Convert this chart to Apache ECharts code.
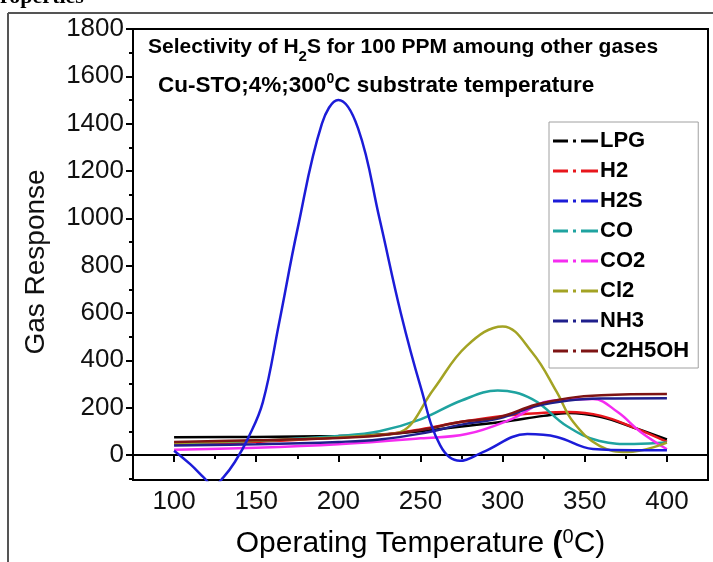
<!DOCTYPE html>
<html>
<head>
<meta charset="utf-8">
<script src="https://cdn.jsdelivr.net/npm/echarts@6/dist/echarts.min.js"></script>
<style>
  html, body { margin: 0; padding: 0; background: #fff; }
  #chart { width: 713px; height: 562px; }
</style>
</head>
<body>
<div id="chart"></div>
<script>
  // readings [temperature, response] for each gas
  const names = ['LPG', 'H2', 'H2S', 'CO', 'CO2', 'Cl2', 'NH3', 'C2H5OH'];
  const colors = ['#000000', '#e8161c', '#1c1cd8', '#1fa3a0', '#f52cf0', '#a3a324', '#1f1f8c', '#7e1414'];

  const lpg = [[100, 75], [150, 76], [200, 80], [225, 86], [250, 100], [275, 120], [300, 140], [325, 165], [340, 177], [360, 160], [380, 115], [400, 65]];
  const h2 = [[100, 45], [150, 55], [200, 74], [225, 84], [250, 108], [275, 140], [300, 165], [325, 178], [340, 181], [360, 165], [380, 115], [400, 55]];
  const h2s = [[100, 18], [110, -40], [118, -95], [124, -130], [130, -95], [137, -30], [145, 70], [154, 222], [164, 560], [175, 950], [190, 1400], [200, 1500], [212, 1380], [225, 1000], [238, 600], [250, 290], [262, 40], [274, -25], [288, 12], [315, 88], [333, 76], [355, 25], [380, 20], [400, 20]];
  const co = [[100, 50], [150, 60], [200, 80], [225, 100], [250, 150], [275, 230], [297, 272], [318, 236], [339, 122], [359, 59], [380, 46], [400, 52]];
  const co2 = [[100, 22], [150, 30], [200, 45], [250, 70], [278, 88], [305, 150], [329, 228], [355, 236], [370, 181], [384, 97], [400, 24]];
  const cl2 = [[100, 50], [150, 60], [200, 74], [225, 85], [238, 97], [258, 278], [278, 460], [300, 543], [318, 433], [333, 265], [343, 139], [359, 38], [376, 12], [400, 52]];
  const nh3 = [[100, 40], [150, 45], [200, 55], [225, 65], [250, 90], [275, 128], [298, 155], [320, 205], [340, 230], [360, 238], [400, 240]];
  const c2h5oh = [[100, 55], [150, 62], [200, 72], [225, 82], [250, 105], [275, 140], [298, 160], [320, 212], [340, 240], [360, 252], [400, 257]];
  const seriesData = [lpg, h2, h2s, co, co2, cl2, nh3, c2h5oh];

  const xMajor = [100, 150, 200, 250, 300, 350, 400];
  const xMinor = [75, 125, 175, 225, 275, 325, 375, 425];
  const yMajor = [0, 200, 400, 600, 800, 1000, 1200, 1400, 1600, 1800];
  const yMinor = [-100, 100, 300, 500, 700, 900, 1100, 1300, 1500, 1700];

  const font = 'Liberation Sans, Arial, sans-serif';
  const chart = echarts.init(document.getElementById('chart'));

  const series = names.map((n, i) => ({
    name: n,
    type: 'line',
    data: seriesData[i],
    smooth: 0.4,
    symbol: 'none',
    lineStyle: {color: colors[i], width: 2.5},
    itemStyle: {color: colors[i]},
    z: i === 2 ? 3 : 2
  }));

  // dash-dot legend sample
  const dashDot = 'path://M0,0H15V3H0Z M20,0H23V3H20Z M28,0H45V3H28Z';

  chart.setOption({
    animation: false,
    grid: {left: 133, right: 5, top: 29, bottom: 82, show: true, borderColor: '#000', borderWidth: 2, outerBoundsMode: 'none'},
    legend: {
      orient: 'vertical',
      left: 549, top: 122,
      data: names.map(n => ({name: n, icon: dashDot})),
      itemWidth: 45, itemHeight: 3, itemGap: 8,
      padding: [8, 9, 6, 4],
      borderColor: '#a0a0a0', borderWidth: 1,
      backgroundColor: '#fff',
      textStyle: {fontFamily: font, fontWeight: 'bold', fontSize: 22, color: '#000', padding: [0, 0, 0, -3]}
    },
    xAxis: [{
      type: 'value', min: 75, max: 425,
      name: 'Operating Temperature {b|(}{sup|0}{n|C)}',
      nameLocation: 'middle', nameGap: 47,
      nameTextStyle: {fontFamily: font, fontSize: 30, color: '#000',
        rich: {b: {fontFamily: font, fontSize: 30, fontWeight: 'bold', color: '#000'},
               sup: {fontFamily: font, fontSize: 20, verticalAlign: 'top', lineHeight: 34, color: '#000'},
               n: {fontFamily: font, fontSize: 30, color: '#000'}}},
      axisLine: {lineStyle: {color: '#000', width: 2}},
      axisTick: {length: 7, lineStyle: {width: 2}, customValues: xMajor},
      axisLabel: {customValues: xMajor, fontFamily: font, fontSize: 26, color: '#111', margin: 9},
      splitLine: {show: false}
    }, {
      type: 'value', min: 75, max: 425, position: 'bottom',
      axisLine: {show: false},
      axisTick: {length: 4, lineStyle: {width: 2, color: '#000'}, customValues: xMinor},
      axisLabel: {show: false},
      splitLine: {show: false}
    }],
    yAxis: [{
      type: 'value', min: -106, max: 1800,
      axisLine: {lineStyle: {color: '#000', width: 2}},
      axisTick: {length: 7, lineStyle: {width: 2}, customValues: yMajor},
      axisLabel: {customValues: yMajor, formatter: v => String(v), fontFamily: font, fontSize: 26, color: '#111', margin: 9},
      splitLine: {show: false}
    }, {
      type: 'value', min: -106, max: 1800, position: 'left',
      axisLine: {show: false},
      axisTick: {length: 4, lineStyle: {width: 2, color: '#000'}, customValues: yMinor},
      axisLabel: {show: false},
      splitLine: {show: false}
    }],
    graphic: [
      {type: 'line', shape: {x1: 8, y1: 13, x2: 713, y2: 13}, style: {stroke: '#555', lineWidth: 2}},
      {type: 'line', shape: {x1: 8, y1: 13, x2: 8, y2: 562}, style: {stroke: '#555', lineWidth: 2}},
      {type: 'text', left: 0, top: -14, style: {text: 'roperties', font: 'bold 22px "Liberation Serif", serif', fill: '#000'}},
      {type: 'text', x: 36, y: 262, rotation: Math.PI / 2, style: {
        text: 'Gas Response', font: '28px ' + font, fill: '#111', align: 'center', verticalAlign: 'middle'}},
      {type: 'text', left: 148, top: 37, style: {
        text: 'Selectivity of H{sub|2}S for 100 PPM amoung other gases',
        font: 'bold 21px ' + font, fill: '#000',
        rich: {sub: {font: 'bold 15px ' + font, verticalAlign: 'bottom', lineHeight: 34, fill: '#000'}}}},
      {type: 'text', left: 158, top: 72, style: {
        text: 'Cu-STO;4%;300{sup|0}C substrate temperature',
        font: 'bold 22.5px ' + font, fill: '#000',
        rich: {sup: {font: 'bold 14px ' + font, verticalAlign: 'top', lineHeight: 28, fill: '#000'}}}}
    ],
    series: series
  });
</script>
</body>
</html>
